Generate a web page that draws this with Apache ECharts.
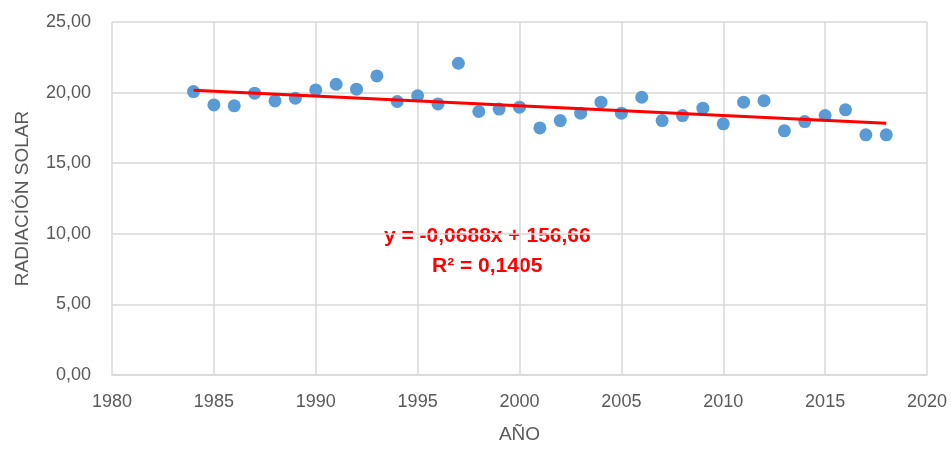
<!DOCTYPE html>
<html>
<head>
<meta charset="utf-8">
<script src="https://cdn.jsdelivr.net/npm/echarts@6/dist/echarts.min.js"></script>
<style>
  html, body { margin: 0; padding: 0; background: #fff; }
  #chart { width: 951px; height: 449px; }
</style>
</head>
<body>
<div id="chart"></div>
<script>
// datos
const years = [1984, 1985, 1986, 1987, 1988, 1989, 1990, 1991, 1992, 1993, 1994, 1995, 1996, 1997, 1998, 1999, 2000,
  2001, 2002, 2003, 2004, 2005, 2006, 2007, 2008, 2009, 2010, 2011, 2012, 2013, 2014, 2015, 2016, 2017, 2018]
const radiacion = [20.07, 19.13, 19.06, 19.96, 19.41, 19.60, 20.19, 20.59, 20.24, 21.18, 19.37, 19.77, 19.20, 22.08, 18.66, 18.83, 18.97,
  17.50, 18.02, 18.54, 19.32, 18.54, 19.67, 18.02, 18.37, 18.90, 17.79, 19.32, 19.43, 17.29, 17.95, 18.37, 18.78, 17.01, 17.01]
// tendencia lineal (Excel)
const slope = -0.0688
const intercept = 156.66
const trendText = ['y = -0,0688x + 156,66', 'R² = 0,1405']

const fmt = v => v.toFixed(2).replace('.', ',')
const gray = '#595959'
const font = 'Liberation Sans'

const chart = echarts.init(document.getElementById('chart'))
const x0 = years[0], x1 = years[years.length - 1]

const option = {
  animation: false,
  textStyle: {fontFamily: font},
  grid: {left: 112, right: 24, top: 22, bottom: 73},
  xAxis: {
    type: 'value',
    min: 1980,
    max: 2020,
    interval: 5,
    name: 'AÑO',
    nameLocation: 'middle',
    nameGap: 50,
    nameTextStyle: {color: gray, fontSize: 19, fontFamily: font},
    axisLine: {show: true, lineStyle: {color: '#d9d9d9', width: 1.5}},
    axisTick: {show: false},
    axisLabel: {color: gray, fontSize: 18, margin: 18, fontFamily: font, formatter: v => String(v)},
    splitLine: {show: true, lineStyle: {color: '#d9d9d9', width: 1.5}}
  },
  yAxis: {
    type: 'value',
    min: 0,
    max: 25,
    interval: 5,
    name: 'RADIACIÓN SOLAR',
    nameLocation: 'middle',
    nameGap: 80,
    nameRotate: 90,
    nameTextStyle: {color: gray, fontSize: 19, fontFamily: font},
    axisLine: {show: false},
    axisTick: {show: false},
    axisLabel: {color: gray, fontSize: 18, margin: 21, formatter: fmt, fontFamily: font},
    splitLine: {show: true, lineStyle: {color: '#d9d9d9', width: 1.5}}
  },
  series: [
    {
      type: 'line',
      data: [[x0, slope * x0 + intercept], [x1, slope * x1 + intercept]],
      symbol: 'none',
      lineStyle: {color: '#ff0000', width: 3},
      z: 3
    },
    {
      type: 'scatter',
      data: years.map((y, i) => [y, radiacion[i]]),
      symbolSize: 13,
      itemStyle: {color: '#5b9bd5', opacity: 1},
      z: 2
    }
  ],
  graphic: [
    {
      type: 'text',
      left: 384,
      top: 226,
      style: {text: trendText[0], fill: '#ff0000', font: 'bold 21px "Liberation Sans"'}
    },
    {
      type: 'text',
      left: 432,
      top: 256,
      style: {text: trendText[1], fill: '#ff0000', font: 'bold 21px "Liberation Sans"'}
    }
  ]
}
chart.setOption(option)
</script>
</body>
</html>
